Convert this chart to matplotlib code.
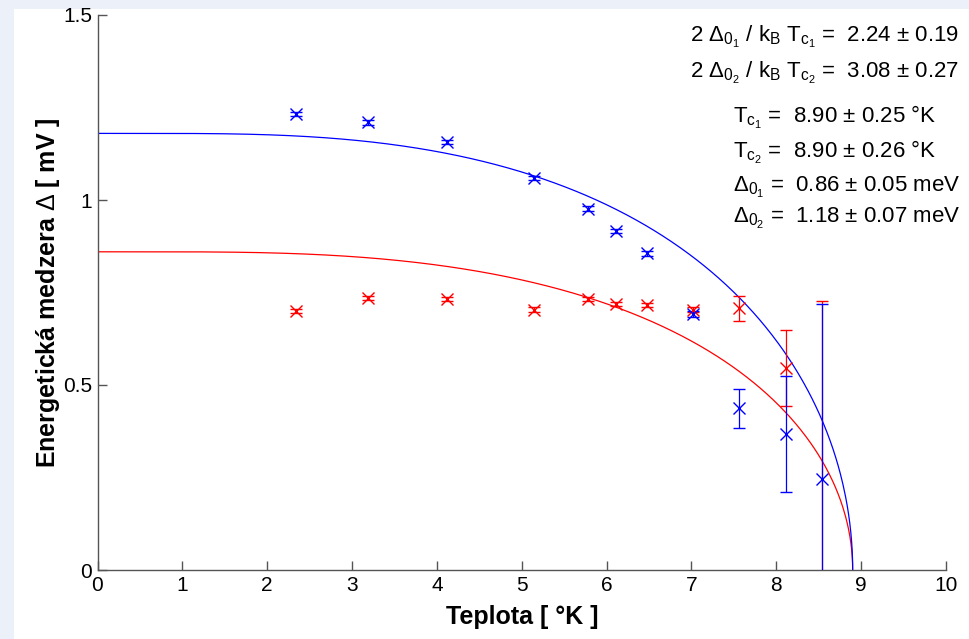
import numpy as np
import matplotlib
matplotlib.use("Agg")
import matplotlib.pyplot as plt
from matplotlib.patches import Rectangle

plt.rcParams["font.family"] = ["Liberation Sans", "DejaVu Sans"]
plt.rcParams["mathtext.fontset"] = "custom"
plt.rcParams["mathtext.rm"] = "Liberation Sans"
plt.rcParams["mathtext.it"] = "Liberation Sans"
plt.rcParams["mathtext.bf"] = "Liberation Sans:bold"

# namerane teploty [K]
teplota = [2.34, 3.19, 4.115, 5.15, 5.775, 6.11, 6.48, 7.02, 7.565, 8.11, 8.54]
# medzera 1 (cervena) a 2 (modra) [mV]
delta1 = [0.700, 0.735, 0.733, 0.704, 0.732, 0.719, 0.716, 0.704, 0.707, 0.545, -0.10]
err1 = [0.006, 0.006, 0.006, 0.006, 0.006, 0.006, 0.006, 0.006, 0.033, 0.103, 0.828]
delta2 = [1.232, 1.210, 1.157, 1.059, 0.977, 0.916, 0.856, 0.691, 0.437, 0.368, 0.246]
err2 = [0.006, 0.006, 0.006, 0.006, 0.006, 0.006, 0.006, 0.008, 0.053, 0.157, 0.473]

# parametre fitu
tc1, tc2 = 8.90, 8.90
d01, d02 = 0.86, 1.18

xticks = [0, 1, 2, 3, 4, 5, 6, 7, 8, 9, 10]
yticks = [0, 0.5, 1, 1.5]
ytick_labels = ["0", "0.5", "1", "1.5"]

popis = [
    (r"2 $\Delta_{0_1}$ / k$_B$ T$_{c_1}$ =  2.24 ± 0.19", 690, 42),
    (r"2 $\Delta_{0_2}$ / k$_B$ T$_{c_2}$ =  3.08 ± 0.27", 690, 78),
    (r"T$_{c_1}$ =  8.90 ± 0.25 °K", 733, 123),
    (r"T$_{c_2}$ =  8.90 ± 0.26 °K", 733, 158),
    (r"$\Delta_{0_1}$ =  0.86 ± 0.05 meV", 733, 192),
    (r"$\Delta_{0_2}$ =  1.18 ± 0.07 meV", 733, 223),
]


def bcs(t, d0, tc):
    return d0 * np.tanh(1.74 * np.sqrt(np.clip(tc / t - 1, 0, None)))


W, H = 969, 639
fig = plt.figure(figsize=(W / 100, H / 100), dpi=100, facecolor="#ecf1f9")
fig.patches.append(Rectangle((14 / W, 0), 1, 1 - 9 / H, transform=fig.transFigure,
                             facecolor="white", edgecolor="none", zorder=-5))
ax = fig.add_axes([97.5 / W, (H - 570) / H, (946 - 97.5) / W, (570 - 15) / H])
ax.set_zorder(2)
ax.patch.set_alpha(0)

# data s chybami
ax.errorbar(teplota, delta1, yerr=err1, fmt="x", color="red", ms=8, mew=1,
            elinewidth=0.9, capsize=4, capthick=0.9, zorder=3)
ax.errorbar(teplota, delta2, yerr=err2, fmt="x", color="blue", ms=8, mew=1,
            elinewidth=0.9, capsize=4, capthick=0.9, zorder=3)

# fitovane krivky
tt = np.concatenate([np.linspace(0.01, 8.8, 600), np.linspace(8.8, 8.90, 200)])
ax.plot(tt, bcs(tt, d01, tc1), color="red", lw=0.9, zorder=2)
ax.plot(tt, bcs(tt, d02, tc2), color="blue", lw=0.9, zorder=2)

ax.set_xlim(0, 10)
ax.set_ylim(0, 1.5)
ax.set_xticks(xticks)
ax.set_yticks(yticks)
ax.set_yticklabels(ytick_labels)
for s in ["top", "right"]:
    ax.spines[s].set_visible(False)
for s in ["left", "bottom"]:
    ax.spines[s].set_color("#555555")
    ax.spines[s].set_linewidth(1.0)
ax.tick_params(direction="in", length=6.5, width=1.0, color="#555555",
               labelsize=15, pad=4)

ax.set_xlabel("Teplota [ °K ]", fontsize=18, fontweight="bold", va="center")
ax.set_ylabel(r"Energetická medzera $\Delta$ [ mV ]", fontsize=18, fontweight="bold",
              va="center")
ax.xaxis.set_label_coords(0.5, -47 / 555)
ax.yaxis.set_label_coords(-49 / 848.5, 0.5)

for txt, px, py in popis:
    fig.text(px / W, 1 - py / H, txt, fontsize=16, ha="left", va="baseline")

plt.savefig("out.png", dpi=100, facecolor=fig.get_facecolor())
